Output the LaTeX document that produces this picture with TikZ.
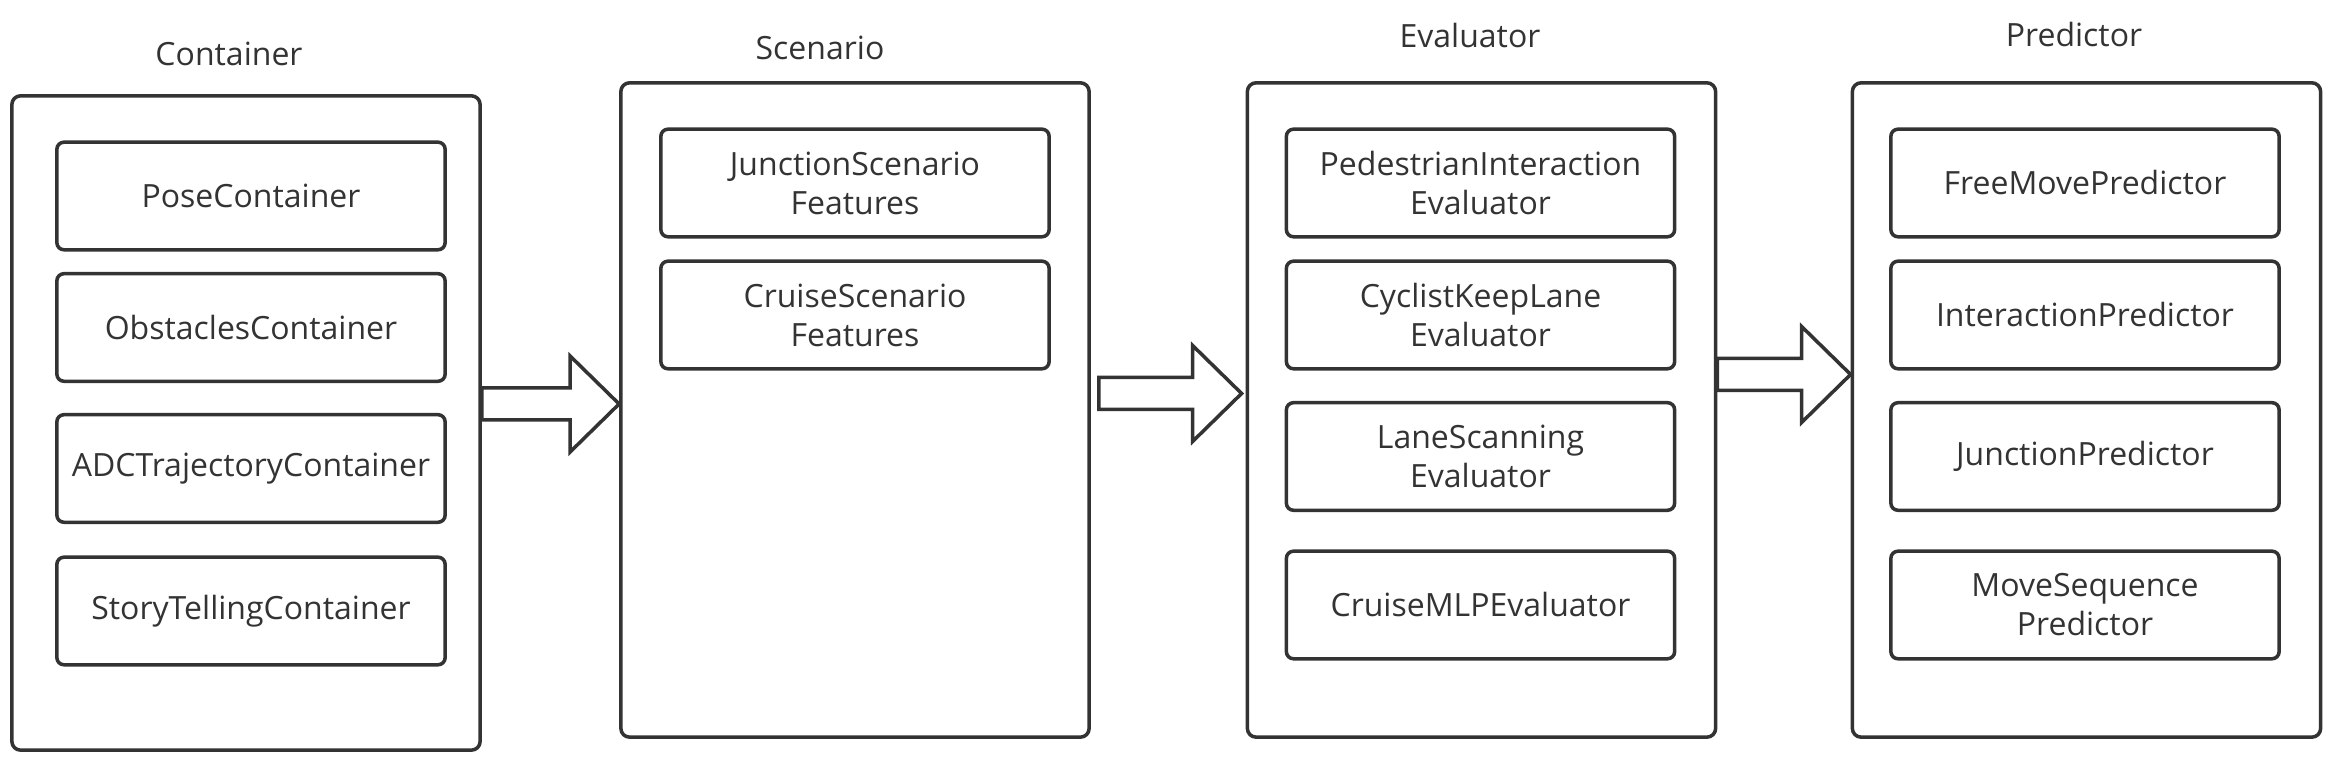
\documentclass[tikz,border=0pt]{standalone}
\usepackage{fontspec}
\setmainfont{Open Sans}
\usetikzlibrary{calc}
\definecolor{ink}{HTML}{333333}
\newcommand{\boxfont}{\fontsize{9.1}{11.1}\selectfont}

\begin{document}
\begin{tikzpicture}[x=0.01cm,y=-0.01cm,
  outer/.style={draw=ink,line width=1pt,rounded corners=2.5pt,minimum width=4.68cm,minimum height=6.54cm},
  item/.style={draw=ink,line width=1pt,rounded corners=2pt,minimum width=3.88cm,minimum height=1.075cm,inner xsep=2pt,align=center,text=ink,font=\boxfont},
  title/.style={text=ink,font=\boxfont,anchor=base},
  bigarrow/.style={draw=ink,line width=1pt}]
\useasboundingbox (0,0) rectangle (2338,771);
% the four stages
\node[outer] (cont) at (246,423) {};
\node[outer] (scen) at (855,410) {};
\node[outer] (eval) at (1481.5,410) {};
\node[outer] (pred) at (2086.5,410) {};
\node[title] (contT) at (229,66) {Container};
\node[title] (scenT) at (820,60) {Scenario};
\node[title] (evalT) at (1470,47.5) {Evaluator};
\node[title] (predT) at (2074,47) {Predictor};
% edit here for the items of each stage
\foreach \y/\txt [count=\i] in {196/PoseContainer, 327.5/ObstaclesContainer, 468.5/ADCTrajectoryContainer, 611/StoryTellingContainer}
\node[item] (cont\i) at (251,\y) {\txt};
\foreach \y/\txt [count=\i] in {183/{JunctionScenario\\Features}, 315/{CruiseScenario\\Features}}
\node[item] (scen\i) at (855,\y) {\txt};
\foreach \y/\txt [count=\i] in {183/{PedestrianInteraction\\Evaluator}, 315/{CyclistKeepLane\\Evaluator}, 456.5/{LaneScanning\\Evaluator}, 605/CruiseMLPEvaluator}
\node[item] (eval\i) at (1480.5,\y) {\txt};
\foreach \y/\txt [count=\i] in {183/FreeMovePredictor, 315/InteractionPredictor, 456.5/JunctionPredictor, 605/{MoveSequence\\Predictor}}
\node[item] (pred\i) at (2085,\y) {\txt};
% edit here for the block arrows
\foreach \a/\b/\y/\ga/\gb in {cont/scen/404/0/0, scen/eval/393.5/8/4, eval/pred/374.5/0/0}{
\coordinate (s) at ($(\a.east |- 0,\y)+(\ga,0)$);
\coordinate (t) at ($(\b.west |- 0,\y)+(-\gb,0)$);
\draw[bigarrow] ($(s)+(0,-16)$) -- ($(t)+(-49,-16)$) -- ($(t)+(-49,-48)$) -- (t)
  -- ($(t)+(-49,48)$) -- ($(t)+(-49,16)$) -- ($(s)+(0,16)$) -- cycle;
}
\end{tikzpicture}
\end{document}
